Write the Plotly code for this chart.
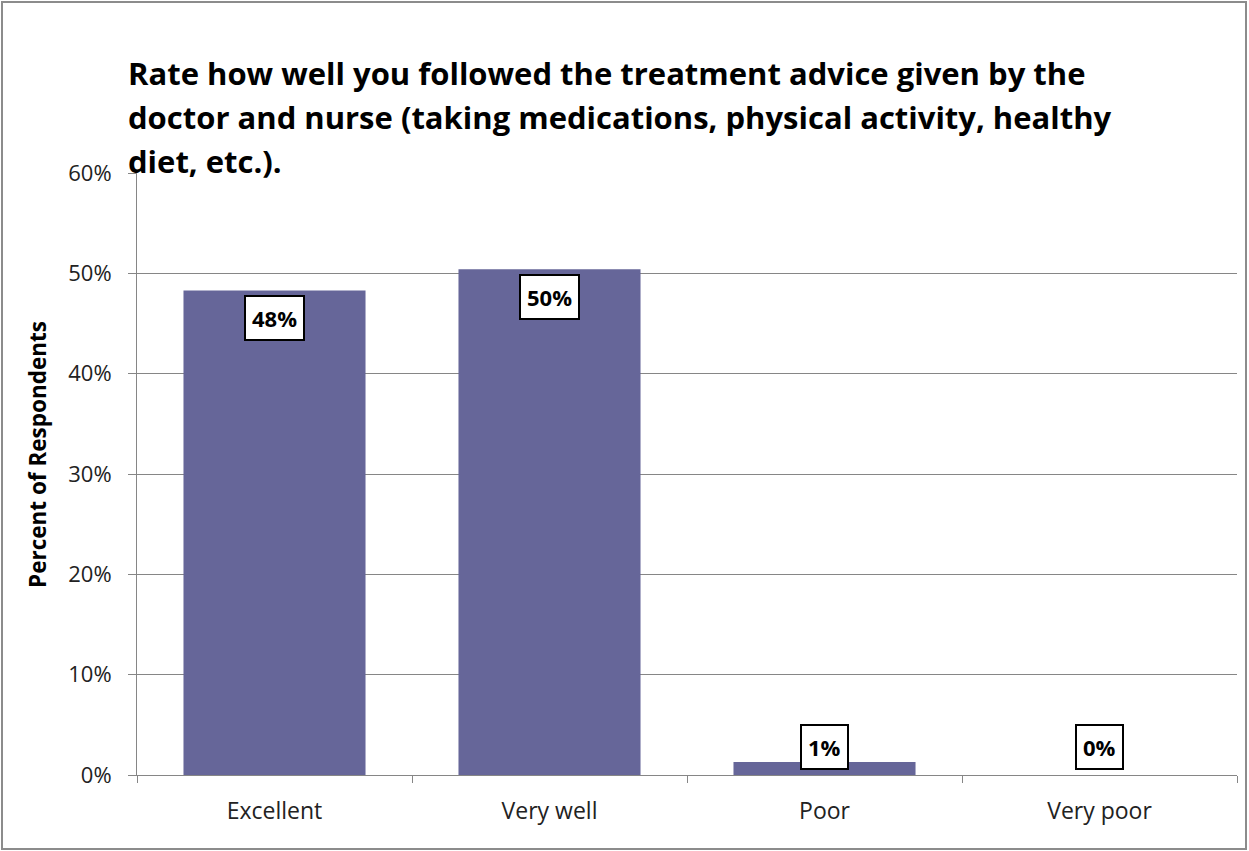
import plotly.graph_objects as go

categories = ["Excellent", "Very well", "Poor", "Very poor"]
values = [48.3, 50.4, 1.3, 0.0]
labels = ["48%", "50%", "1%", "0%"]
title_lines = [
    "Rate how well you followed the treatment advice given by the",
    "doctor and nurse (taking medications, physical activity, healthy",
    "diet, etc.).",
]
y_title = "Percent of Respondents"

W, H = 1249, 851
L, R, T, B = 137, 12, 173, 76
pw, ph = W - L - R, H - T - B

def px(x):
    return (x - L) / pw

def py(y):
    return (H - B - y) / ph

FONT = "'Open Sans', sans-serif"
GRID = "#868686"
BAR = "#666699"

fig = go.Figure()
fig.add_trace(go.Bar(x=categories, y=values, marker=dict(color=BAR, line=dict(width=0)),
                     hoverinfo="skip"))

annotations = []
for i, line in enumerate(title_lines):
    annotations.append(dict(text="<b>%s</b>" % line, xref="paper", yref="paper",
                            x=px(126), y=py(73 + 44 * i), xanchor="left", yanchor="middle",
                            showarrow=False, font=dict(family=FONT, size=31, color="black")))
annotations.append(dict(text="<b>%s</b>" % y_title, xref="paper", yref="paper",
                        x=px(37), y=py(455), textangle=-90, showarrow=False,
                        xanchor="center", yanchor="middle",
                        font=dict(family=FONT, size=22.5, color="black")))
for c, v, lab in zip(categories, values, labels):
    if v > 10:
        a = dict(y=v, yshift=-28)
    else:
        a = dict(y=0, yshift=28)
    annotations.append(dict(text="<b>%s</b>" % lab, x=c, xref="x", yref="y", showarrow=False,
                            xanchor="center", yanchor="middle", bgcolor="white",
                            bordercolor="black", borderwidth=2, borderpad=6,
                            font=dict(family=FONT, size=22, color="black"), **a))

fig.update_layout(
    width=W, height=H,
    margin=dict(l=L, r=R, t=T, b=B, pad=0),
    paper_bgcolor="white", plot_bgcolor="white",
    bargap=0.338, showlegend=False,
    font=dict(family=FONT, color="black"),
    annotations=annotations,
    shapes=[dict(type="rect", xref="paper", yref="paper",
                 x0=px(2), x1=px(1246), y0=py(849), y1=py(2),
                 line=dict(color="#8c8c8c", width=2), fillcolor="rgba(0,0,0,0)", layer="below")],
)
fig.update_xaxes(showline=True, linecolor=GRID, linewidth=1, ticks="outside", ticklen=7,
                 tickcolor=GRID, tickson="boundaries", showgrid=False,
                 tickfont=dict(family=FONT, size=23, color="#222222"), ticklabelstandoff=15)
fig.update_yaxes(range=[0, 60], dtick=10, ticksuffix="%", showgrid=True, gridcolor=GRID,
                 gridwidth=1, showline=True, linecolor=GRID, linewidth=1, ticks="outside",
                 ticklen=8, tickcolor=GRID, zeroline=False,
                 tickfont=dict(family=FONT, size=22, color="#222222"), ticklabelstandoff=12)

fig.write_html("out.html", config={"displayModeBar": False},
               post_script="document.body.style.margin='0';document.body.style.overflow='hidden';")
